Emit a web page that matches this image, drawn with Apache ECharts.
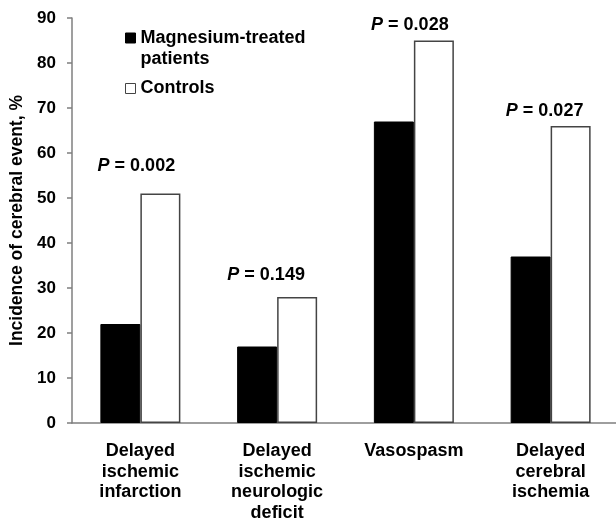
<!DOCTYPE html>
<html>
<head>
<meta charset="utf-8">
<script src="https://cdn.jsdelivr.net/npm/echarts@6/dist/echarts.min.js"></script>
<style>
  html, body { margin: 0; padding: 0; background: #fff; }
  #chart { width: 616px; height: 520px; }
</style>
</head>
<body>
<div id="chart"></div>
<script>
  // data
  var categories = ['Delayed\nischemic\ninfarction', 'Delayed\nischemic\nneurologic\ndeficit', 'Vasospasm', 'Delayed\ncerebral\nischemia']
  var magnesium = [22, 17, 67, 37]
  var controls = [51, 28, 85, 66]
  var pValues = ['0.002', '0.149', '0.028', '0.027']

  // where the P labels sit relative to the control bar top
  var pOffsets = [[-24, -18], [-31, -13], [-24, -6], [-26, -6]]

  var font = 'Liberation Sans, Arial, sans-serif'
  var axisGray = '#7f7f7f'

  var controlData = controls.map(function (v, i) {
    return {
      value: v,
      label: {
        show: true,
        position: 'top',
        distance: 0,
        offset: pOffsets[i],
        formatter: '{p|P} = ' + pValues[i]
      }
    }
  })

  var myChart = echarts.init(document.getElementById('chart'))
  myChart.setOption({
    animation: false,
    textStyle: { fontFamily: font },
    grid: { left: 72, right: -3, top: 18, bottom: 97, containLabel: false, outerBoundsMode: 'none' },
    legend: {
      orient: 'vertical',
      left: 125,
      top: 7.5,
      itemWidth: 10,
      itemHeight: 10,
      itemGap: 11,
      icon: 'rect',
      padding: 0,
      itemStyle: { borderWidth: 1 },
      data: ['Magnesium-treated patients', 'Controls'],
      // blank line above so the icon lines up with the first text line
      formatter: function (name) {
        if (name === 'Controls') return '{a|' + name + '}'
        return '{e| }\n{a|Magnesium-treated}\n{a|patients}'
      },
      textStyle: {
        fontFamily: font,
        fontWeight: 'bold',
        fontSize: 18,
        color: '#000',
        rich: {
          a: { fontFamily: font, fontWeight: 'bold', fontSize: 18, lineHeight: 21.5, color: '#000' },
          e: { fontSize: 18, lineHeight: 21.5 }
        }
      }
    },
    xAxis: {
      type: 'category',
      data: categories,
      axisLine: { lineStyle: { color: axisGray, width: 1.5 } },
      axisTick: { length: 6, lineStyle: { color: axisGray, width: 1.5 } },
      axisLabel: {
        interval: 0,
        margin: 18,
        fontFamily: font,
        fontWeight: 'bold',
        fontSize: 18,
        lineHeight: 20.5,
        color: '#000'
      }
    },
    yAxis: {
      type: 'value',
      min: 0,
      max: 90,
      interval: 10,
      name: 'Incidence of cerebral event, %',
      nameLocation: 'middle',
      nameGap: 44,
      nameTextStyle: {
        fontFamily: font,
        fontWeight: 'bold',
        fontSize: 17.5,
        color: '#000'
      },
      splitLine: { show: false },
      axisLine: { show: true, lineStyle: { color: axisGray, width: 1.5 } },
      axisTick: { show: true, length: 5, lineStyle: { color: axisGray, width: 1.5 } },
      axisLabel: {
        margin: 16,
        fontFamily: font,
        fontWeight: 'bold',
        fontSize: 17,
        color: '#000'
      }
    },
    series: [
      {
        name: 'Magnesium-treated patients',
        type: 'bar',
        data: magnesium,
        barWidth: 40,
        barGap: '0%',
        itemStyle: { color: '#000', borderColor: '#000', borderWidth: 1 }
      },
      {
        name: 'Controls',
        type: 'bar',
        data: controlData,
        barWidth: 40,
        barGap: '0%',
        itemStyle: { color: '#fff', borderColor: '#444', borderWidth: 1.5 },
        label: {
          color: '#000',
          fontFamily: font,
          fontWeight: 'bold',
          fontSize: 18,
          rich: {
            p: { fontStyle: 'italic', fontWeight: 'bold', fontSize: 18, fontFamily: font, color: '#000' }
          }
        }
      }
    ]
  })
</script>
</body>
</html>
